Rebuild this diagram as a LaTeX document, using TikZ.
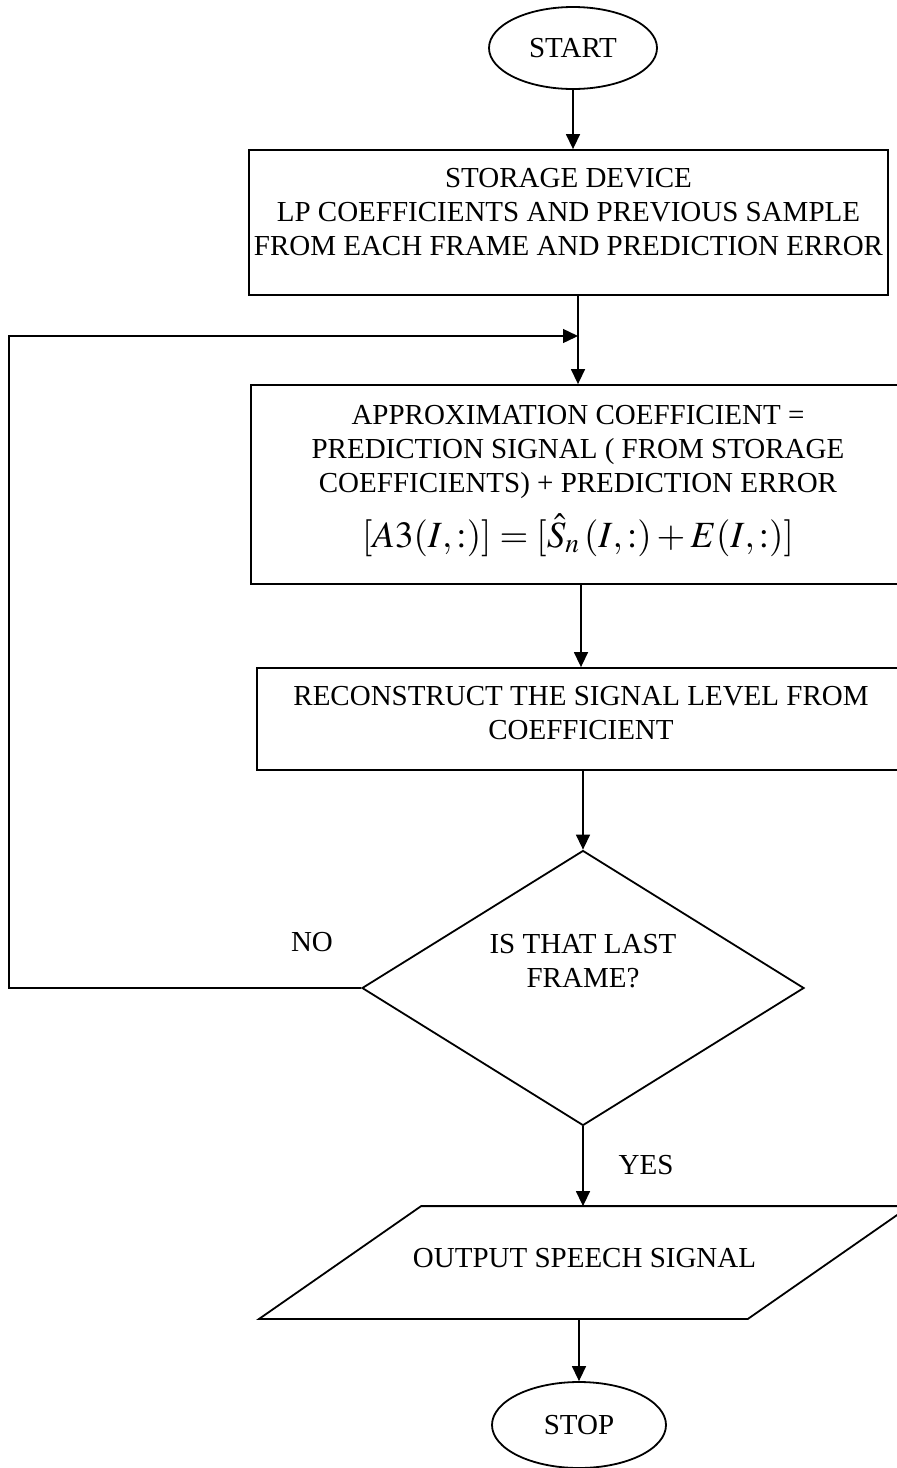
\documentclass[tikz,border=0pt]{standalone}
\usepackage{mathptmx}
\usepackage[no-math]{fontspec}
\setmainfont{Liberation Serif}
\usetikzlibrary{arrows.meta,calc,shapes.geometric}
\newcommand{\vgap}[1]{\rule[-#1]{0pt}{#1}}

\begin{document}
\begin{tikzpicture}[x=0.5pt,y=-0.5pt,
	element/.style={draw,line width=0.9pt,rectangle,align=center,inner sep=0pt,font=\fontsize{14.5}{17}\selectfont},
	terminal/.style={element,ellipse},
	decision/.style={element,diamond,aspect=1.6},
	tag/.style={inner sep=0pt,font=\fontsize{14.5}{17}\selectfont},
	flow/.style={line width=0.7pt,-{Triangle[length=7.5pt,width=7pt]}}]
	\clip (0,0) rectangle (897,1468);
	\node[terminal,minimum width=84pt,minimum height=41pt] (start) at (573,48) {START};
	\node[element,minimum width=319.5pt,minimum height=72.5pt] (store) at (568.5,222.5) {STORAGE DEVICE\\LP COEFFICIENTS AND PREVIOUS SAMPLE\\FROM EACH FRAME AND PREDICTION ERROR\vgap{11pt}};
	\node[element,minimum width=327pt,minimum height=99.5pt] (approx) at (578,484.5) {APPROXIMATION COEFFICIENT =\\PREDICTION SIGNAL ( FROM STORAGE\\COEFFICIENTS) + PREDICTION ERROR\\[7pt]{\fontsize{18.5}{22}\selectfont$[A3(I,:)]=[\hat{S}_n\,(I,:)+E(I,:)]$}\vgap{8.5pt}};
	\node[element,minimum width=324pt,minimum height=51pt] (recon) at (581,719) {RECONSTRUCT THE SIGNAL LEVEL FROM\\COEFFICIENT\vgap{6pt}};
	\node[decision,minimum width=221pt,minimum height=137.5pt] (dec) at (583,988) {IS THAT LAST\\FRAME?\vgap{27pt}};
	\node[element,draw=none,minimum width=324.5pt,minimum height=55.5pt] (out) at (584.5,1262.5) {OUTPUT SPEECH SIGNAL\vgap{4.5pt}};
	\draw[line width=0.9pt] (out.south west) -- ($(out.north west)+(162,0)$) -- (out.north east) -- ($(out.south east)-(162,0)$) -- cycle;
	\node[terminal,minimum width=87pt,minimum height=43pt] (stop) at (579,1425) {STOP};
	\node[tag] (no) at (312,942) {NO};
	\node[tag] (yes) at (646,1165) {YES};
	\coordinate (loop) at (9,336);
	\coordinate (join) at (approx.north |- loop);
	\draw[flow] (start.south) -- (start.south |- store.north);
	\draw[flow] (approx.north |- store.south) -- (approx.north);
	\draw[flow] (recon.north |- approx.south) -- (recon.north);
	\draw[flow] (dec.north |- recon.south) -- (dec.north);
	\draw[flow] (dec.south) -- (dec.south |- out.north);
	\draw[flow] (stop.north |- out.south) -- (stop.north);
	\draw[flow] (dec.west) -| (loop) -- (join);
\end{tikzpicture}
\end{document}
